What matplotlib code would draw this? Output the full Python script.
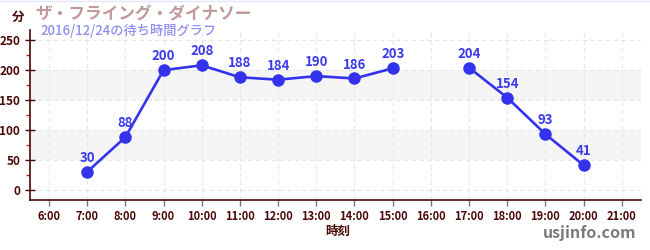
import numpy as np
import matplotlib
matplotlib.use("Agg")
import matplotlib.pyplot as plt
from matplotlib.ticker import MultipleLocator
from matplotlib.lines import Line2D

plt.rcParams['font.family'] = ['Noto Sans CJK JP', 'DejaVu Sans']

# wait time (minutes) by hour; None = no data
hours = [6, 7, 8, 9, 10, 11, 12, 13, 14, 15, 16, 17, 18, 19, 20, 21]
waits = [None, 30, 88, 200, 208, 188, 184, 190, 186, 203, None, 204, 154, 93, 41, None]
hour_labels = [f"{h}:00" for h in hours]

TITLE = "ザ・フライング・ダイナソー"
SUBTITLE = "2016/12/24の待ち時間グラフ"

_MAROON = "#4a0808"
_BLUE = "#3333ee"

y = np.array([np.nan if v is None else v for v in waits], dtype=float)

fig = plt.figure(figsize=(6.5, 2.5), dpi=100)
ax = fig.add_axes([0.046, 0.2, 0.94, 0.68])

ax.set_xlim(5.5, 21.5)
ax.set_ylim(-17, 267)

# alternating bands
for lo, hi in [(50, 100), (150, 200)]:
    ax.axhspan(lo, hi, color="#f5f5f5", zorder=0, lw=0)

ax.grid(True, which="major", ls=(0, (4, 3)), lw=0.8, color="#e6e6e6", zorder=0.5)

ax.plot(hours, y, color=_BLUE, lw=1.9, marker="o", ms=8, zorder=3)
for h, v in zip(hours, waits):
    if v is None:
        continue
    ax.annotate(str(v), (h, v), xytext=(0, 5), textcoords="offset points",
                ha="center", va="bottom", fontsize=9.5, fontweight="bold",
                color="#3a3af0", zorder=4)

ax.set_xticks(hours)
ax.set_xticklabels(hour_labels)
ax.yaxis.set_major_locator(MultipleLocator(50))
ax.yaxis.set_minor_locator(MultipleLocator(25))

ax.tick_params(axis="x", colors="#777777", length=4, width=1, labelsize=8,
               labelcolor=_MAROON)
ax.tick_params(axis="y", which="major", direction="inout", length=7, width=1,
               colors=_MAROON, labelsize=8.5)
ax.tick_params(axis="y", which="minor", direction="out", length=3, width=1,
               colors="#dd1111")
for lab in ax.get_xticklabels() + ax.get_yticklabels():
    lab.set_fontweight("bold")

for side in ("top", "right"):
    ax.spines[side].set_visible(False)
for side in ("left", "bottom"):
    ax.spines[side].set_color(_MAROON)
    ax.spines[side].set_linewidth(1.2)

fig.text(18 / 650, 1 - 17 / 250, "分", ha="center", va="center",
         fontsize=9, fontweight="bold", color=_MAROON)
fig.text(35 / 650, 1 - 14 / 250, TITLE, ha="left", va="center",
         fontsize=12, fontweight="bold", color="#c09a9a")
fig.text(40 / 650, 1 - 31 / 250, SUBTITLE, ha="left", va="center",
         fontsize=9.5, fontweight="medium", color="#8f8ff2")
fig.text(338 / 650, 1 - 231 / 250, "時刻", ha="center", va="center",
         fontsize=9, fontweight="bold", color=_MAROON)
fig.text(636 / 650, 1 - 233 / 250, "usjinfo.com", ha="right", va="center",
         fontsize=11.5, fontweight="bold", color="#7a7a7a")

fig.add_artist(Line2D([0, 1], [0.998, 0.998], transform=fig.transFigure,
                      color="#e4e4ff", lw=1))

fig.savefig("out.png", dpi=100)
